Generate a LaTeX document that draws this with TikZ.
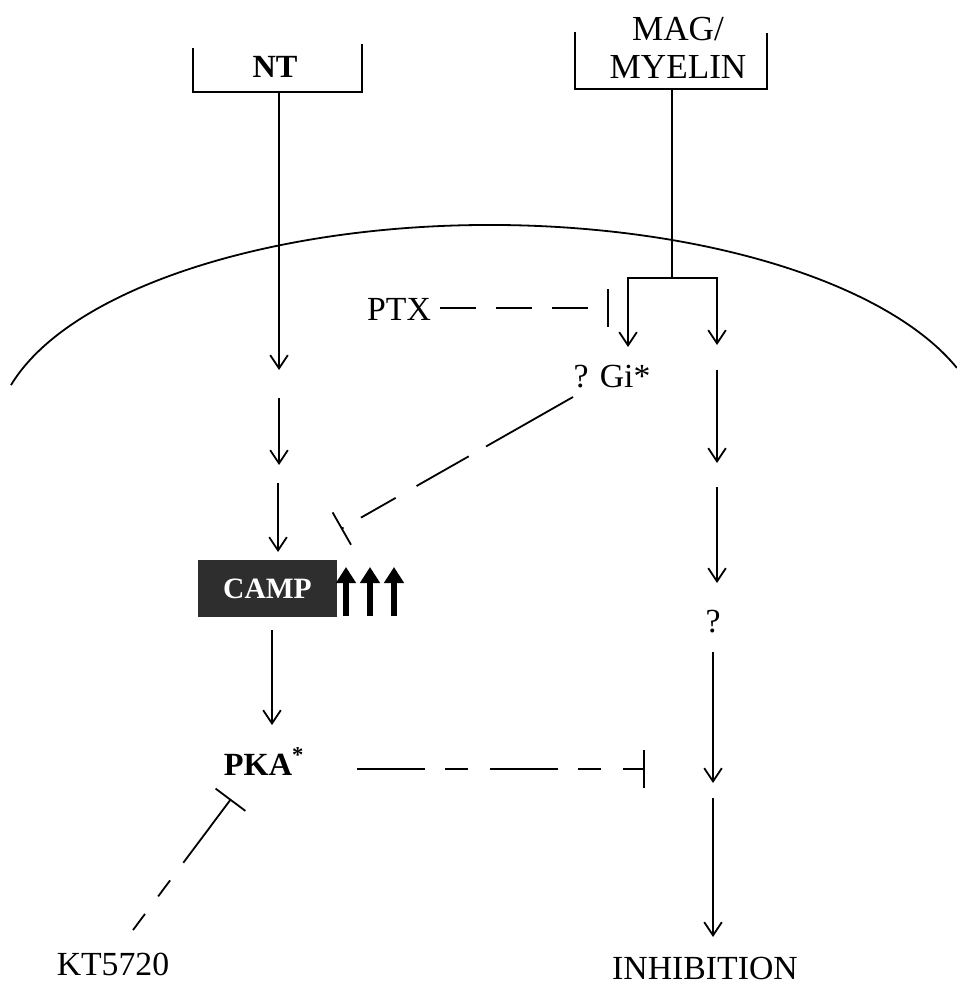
\documentclass[tikz,border=0pt]{standalone}
\usepackage{fontspec}
\setmainfont{Liberation Serif}
\usetikzlibrary{arrows.meta}

\begin{document}
\begin{tikzpicture}[x=0.25mm, y=-0.25mm, line width=0.45mm,
    flow/.style={-{Straight Barb[length=3.3mm, width=4.4mm]}},
    block/.style={-{Bar[width=9.3mm]}},
    lbl/.style={inner sep=0pt, font=\fontsize{24}{28}\selectfont},
    bold lbl/.style={inner sep=0pt, font=\fontsize{23}{28}\selectfont\bfseries},
    upbold/.style={line width=1.4mm, -{Triangle[length=4mm, width=4.8mm]}}]
\useasboundingbox (0,0) rectangle (957,988);

% cell membrane
\draw (490,439) ++(-165.4:495 and 214) arc[start angle=-165.4, end angle=-19.4, x radius=495, y radius=214];

% ligands
\node[bold lbl, anchor=base] (nt) at (275,78) {NT};
\draw (193,48) -- (193,92) -- (362,92) -- (362,44);
\node[inner sep=0pt, align=center, font=\fontsize{25}{27}\selectfont] (mag) at (678,48) {MAG/\\MYELIN};
\draw (575,32) -- (575,89) -- (767,89) -- (767,33);

% labels
\node[lbl, anchor=base] (ptx) at (399,320) {PTX};
\node[lbl, anchor=base] (gi) at (612,387) {? Gi*};
\node[fill=black!82, text=white, minimum width=34.75mm, minimum height=14.25mm,
      font=\fontsize{21}{24}\selectfont\bfseries] (camp) at (267.5,588.5) {CAMP};
\node[bold lbl, anchor=base west] (pka) at (223,775) {PKA\textsuperscript{*}};
\node[lbl, anchor=base] (kt) at (113,975) {KT5720};
\node[lbl, anchor=base] (q) at (713,632) {?};
\node[lbl, anchor=base] (inh) at (705,979) {INHIBITION};

% points on the pathways
\coordinate (ntfoot) at (279,92);
\coordinate (magfoot) at (672,89);
\coordinate (split) at (672,278);
\coordinate (giin) at (628,347);
\coordinate (r1) at (717,345);
\coordinate (ptxout) at (440,308);
\coordinate (ptxbar) at (609,308);
\coordinate (giout) at (573,397);
\coordinate (campbar) at (341,529);
\coordinate (pkaout) at (357,769);
\coordinate (pkabar) at (645,769);
\coordinate (ktout) at (133,930);
\coordinate (ktbar) at (231,799);

% NT pathway
\draw[flow] (ntfoot) -- (279,370);
\draw[flow] (279,398) -- (279,465);
\draw[flow] (278,483) -- (278,552);
\draw[flow] (272,630) -- (272,725);
\foreach \x in {346,370,394}
    \draw[upbold] (\x,616) -- (\x,567);

% MAG pathway
\draw (magfoot) -- (split);
\draw[flow] (split) -| (giin);
\draw[flow] (split) -| (r1);
\draw[flow] (717,370) -- (717,463);
\draw[flow] (717,487) -- (717,583);
\draw[flow] (713,652) -- (713,783);
\draw[flow] (713,798) -- (713,937);

% inhibitions
\draw[block, dash pattern=on 9mm off 5mm] (ptxout) -- (ptxbar);
\draw[block, dash pattern=on 25mm off 5mm on 15mm off 6mm on 10mm off 5mm] (giout) -- (campbar);
\draw[block, dash pattern=on 17mm off 5mm on 5.75mm off 5.5mm] (pkaout) -- (pkabar);
\draw[block, dash pattern=on 5mm off 5.5mm on 5mm off 5.5mm on 20mm] (ktout) -- (ktbar);
\end{tikzpicture}
\end{document}
